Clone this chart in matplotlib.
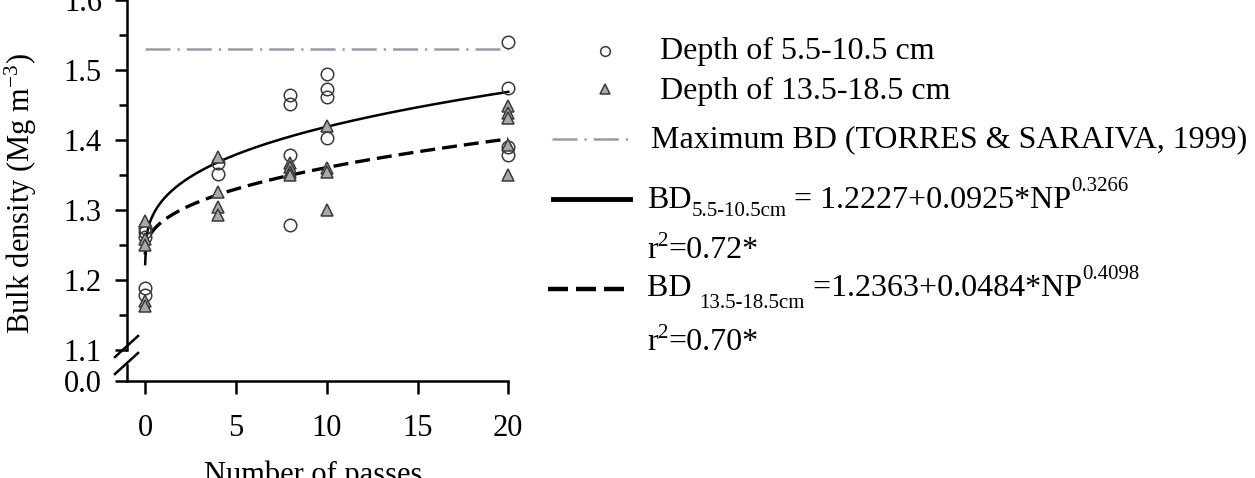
import numpy as np
import matplotlib
matplotlib.use("Agg")
import matplotlib.pyplot as plt
import matplotlib.transforms as mtransforms
from matplotlib.lines import Line2D

plt.rcParams["font.family"] = ["Liberation Serif", "DejaVu Serif"]
plt.rcParams["mathtext.fontset"] = "custom"
plt.rcParams["mathtext.rm"] = "Liberation Serif"
plt.rcParams["mathtext.it"] = "Liberation Serif:italic"

# ── DATA ──────────────────────────────────────────────────────────────────────

shallow_np = [0, 0, 0, 0, 0, 4, 4, 8, 8, 8, 8, 10, 10, 10, 10, 20, 20, 20, 20]
shallow_bd = [1.275, 1.268, 1.262, 1.188, 1.178,
              1.367, 1.352,
              1.464, 1.452, 1.379, 1.279,
              1.494, 1.473, 1.461, 1.403,
              1.540, 1.474, 1.390, 1.379]

deep_np = [0, 0, 0, 0, 0, 4, 4, 4, 4, 8, 8, 8, 8, 10, 10, 10, 10, 20, 20, 20, 20, 20]
deep_bd = [1.285, 1.258, 1.250, 1.170, 1.163,
           1.376, 1.326, 1.305, 1.293,
           1.367, 1.362, 1.355, 1.350,
           1.420, 1.360, 1.355, 1.300,
           1.448, 1.438, 1.431, 1.393, 1.350]

# BD = a + b * NP^c  (equations printed on the chart)
fit_shallow = [1.2227, 0.0925, 0.3266]
fit_deep    = [1.2363, 0.0484, 0.4098]
max_bd      = 1.53

x_ticks   = [0, 5, 10, 15, 20]
y_major   = [1.1, 1.2, 1.3, 1.4, 1.5, 1.6]
y_minor   = [1.15, 1.25, 1.35, 1.45, 1.55]

GREY_LINE = "#9b9ba5"
TRI_FILL  = "#a9a9a9"
EDGE      = "#3a3a3a"

# ── FIGURE ────────────────────────────────────────────────────────────────────

W, H = 1255, 478
fig = plt.figure(figsize=(W / 100, H / 100), dpi=100)
px = mtransforms.Affine2D().scale(1 / W, -1 / H).translate(0, 1) + fig.transFigure

left, right = 127, 508.3
y_top_bottom = 350      # pixel row of 1.1
y_axis_row   = 381      # pixel row of the x axis (0.0)

ax = fig.add_axes([left / W, 1 - y_top_bottom / H, (right - left) / W, y_top_bottom / H])
axb = fig.add_axes([left / W, 1 - y_axis_row / H, (right - left) / W, 16 / H], sharex=ax)

lw_axis = 1.8
for a in (ax, axb):
    for s in ("top", "right"):
        a.spines[s].set_visible(False)
    a.spines["left"].set_linewidth(lw_axis)
    a.spines["bottom"].set_linewidth(lw_axis)
    a.patch.set_visible(False)
ax.spines["bottom"].set_visible(False)

# fitted curves
np_grid = np.linspace(0, 20, 300)
bd_s = fit_shallow[0] + fit_shallow[1] * np_grid ** fit_shallow[2]
bd_d = fit_deep[0] + fit_deep[1] * np_grid ** fit_deep[2]

ax.plot([0, 20], [max_bd, max_bd], color=GREY_LINE, lw=1.8,
        linestyle=(0, (10, 2.8, 0.9, 2.8)), clip_on=False)
ax.plot(np_grid, bd_s, color="black", lw=1.8, clip_on=False)
ax.plot(np_grid, bd_d, color="black", lw=2.4, linestyle=(0, (4.5, 2.1)), clip_on=False)

ax.plot(shallow_np, shallow_bd, "o", ms=9, mfc="none", mec=EDGE, mew=1.1, clip_on=False)
ax.plot(deep_np, deep_bd, "^", ms=9, mfc=TRI_FILL, mec=EDGE, mew=1.1, clip_on=False)

ax.set_xlim(-1, 20)
ax.set_ylim(1.1, 1.6)
ax.set_yticks(y_major)
ax.set_yticklabels([f"{v:.1f}" for v in y_major])
ax.set_yticks(y_minor, minor=True)
ax.tick_params(axis="x", which="both", bottom=False, labelbottom=False)
ax.tick_params(axis="y", which="major", length=9, width=lw_axis, labelsize=22, pad=9)
ax.tick_params(axis="y", which="minor", length=5.5, width=lw_axis)

axb.set_ylim(0, 1)
axb.set_yticks([0])
axb.set_yticklabels(["0.0"])
axb.set_xticks(x_ticks)
axb.tick_params(axis="y", length=9, width=lw_axis, labelsize=22, pad=9)
axb.tick_params(axis="x", length=9, width=lw_axis, labelsize=22, pad=15)

# axis break marks
for yc in (347, 364):
    fig.add_artist(Line2D([115, 138], [yc + 10, yc - 11], transform=px,
                          color="black", lw=lw_axis))

fig.text(313, 483, "Number of passes", transform=px, fontsize=22,
         ha="center", va="baseline")
fig.text(21, 193, r"Bulk density (Mg m$^{\mathregular{-3}}$)", transform=px,
         fontsize=22, rotation=90, ha="center", va="center")

# ── LEGEND (drawn by hand) ────────────────────────────────────────────────────

fig.canvas.draw()
renderer = fig.canvas.get_renderer()

def rich(x, y, parts):
    # parts: (text, size, vertical offset in px)
    for s, size, dy in parts:
        t = fig.text(x, y + dy, s, transform=px, fontsize=size, va="baseline")
        x += t.get_window_extent(renderer).width

BIG, SMALL = 23, 15

fig.add_artist(Line2D([605], [51], transform=px, marker="o", ms=7,
                      mfc="none", mec=EDGE, mew=1.1))
fig.add_artist(Line2D([605], [89], transform=px, marker="^", ms=7,
                      mfc=TRI_FILL, mec=EDGE, mew=1.1))
fig.add_artist(Line2D([552, 630], [139, 139], transform=px, color=GREY_LINE,
                      lw=1.8, linestyle=(0, (10, 2.8, 0.9, 2.8))))
fig.add_artist(Line2D([553, 630], [199, 199], transform=px, color="black", lw=3.5))
fig.add_artist(Line2D([548, 625], [289, 289], transform=px, color="black",
                      lw=3.2, linestyle=(0, (4.5, 1.8))))

rich(660, 59, [("Depth of 5.5-10.5 cm", BIG, 0)])
rich(660, 99, [("Depth of 13.5-18.5 cm", BIG, 0)])
rich(651, 147, [("Maximum BD (TORRES & SARAIVA, 1999)", BIG, 0)])
rich(647, 208, [("BD", BIG, 0), ("5.5-10.5cm", SMALL, 8), (" = 1.2227+0.0925*NP", BIG, 0),
                ("0.3266", SMALL, -17)])
rich(647, 258, [("r", BIG, 0), ("2", SMALL, -12), ("=0.72*", BIG, 0)])
rich(647, 296, [("BD ", BIG, 0), ("13.5-18.5cm", SMALL, 12), (" =1.2363+0.0484*NP", BIG, 0),
                ("0.4098", SMALL, -17)])
rich(647, 350, [("r", BIG, 0), ("2", SMALL, -12), ("=0.70*", BIG, 0)])

fig.savefig("out.png", dpi=100)
